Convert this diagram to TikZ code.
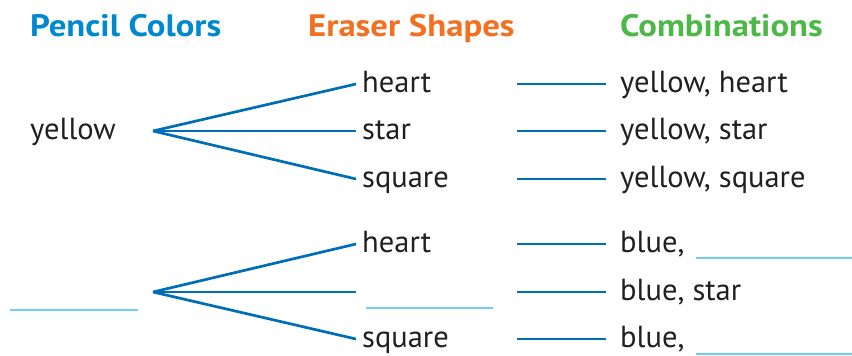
\documentclass[tikz,border=0pt]{standalone}
\usepackage{fontspec}
\setmainfont{PT Sans}
\newfontfamily\headfont[FakeStretch=1.12]{PT Sans}
\usetikzlibrary{positioning}
\definecolor{pencilblue}{RGB}{0,137,207}
\definecolor{eraserorange}{RGB}{243,112,33}
\definecolor{combogreen}{RGB}{77,184,72}
\definecolor{branchblue}{RGB}{0,110,183}
\definecolor{blankblue}{RGB}{109,207,246}
\definecolor{ink}{RGB}{35,31,32}
\tikzset{head/.style = {font=\headfont\bfseries\fontsize{31}{36}\selectfont,
                        anchor=base west, inner sep=0}}
\tikzset{word/.style = {font=\fontsize{30.5}{36}\selectfont, text=ink,
                        text height=20pt, text depth=4pt,
                        inner sep=0, anchor=west}}
\tikzset{branch/.style = {draw=branchblue, line width=2.7pt}}
\tikzset{tie/.style = {draw=branchblue, line width=2.7pt}}
\tikzset{blank/.style = {draw=blankblue, line width=2.8pt}}

\begin{document}
\begin{tikzpicture}[x=1pt,y=-1pt]
      \useasboundingbox (0,0) rectangle (852,356);
      \node[head, text=pencilblue] (colors) at (30,36) {Pencil Colors};
      \node[head, text=eraserorange] (shapes) at (308,36) {Eraser Shapes};
      \node[head, text=combogreen] (combos) at (620,36) {Combinations};
      \node[word] (yellow) at (30,131) {yellow};
      \coordinate (r1) at (153,131);
      \coordinate (r2) at (153,292);
      \node[word] (s1) at (362,84) {heart};
      \node[word] (s2) at (362,131) {star};
      \node[word] (s3) at (362,179) {square};
      \node[word] (s4) at (362,244) {heart};
      \coordinate (s5) at (362,292);
      \node[word] (s6) at (362,339) {square};
      \draw[branch] (r1) -- ([xshift=-6pt]s1.west);
      \draw[branch] (r1) -- ([xshift=-6pt]s2.west);
      \draw[branch] (r1) -- ([xshift=-6pt]s3.west);
      \draw[branch] (r2) -- ([xshift=-6pt]s4.west);
      \draw[branch] (r2) -- ([xshift=-6pt]s5);
      \draw[branch] (r2) -- ([xshift=-6pt]s6.west);
      \draw[blank] (10,310) -- (138,310);
      \draw[blank] (366,308) -- (493,308);
      \node[word] (c1) at (620,84) {yellow, heart};
      \node[word] (c2) at (620,131) {yellow, star};
      \node[word] (c3) at (620,179) {yellow, square};
      \node[word] (c4) at (620,244) {blue,};
      \node[word] (c5) at (620,292) {blue, star};
      \node[word] (c6) at (620,339) {blue,};
      \coordinate (d1) at (517,84);
      \coordinate (d2) at (517,131);
      \coordinate (d3) at (517,179);
      \coordinate (d4) at (517,244);
      \coordinate (d5) at (517,292);
      \coordinate (d6) at (517,339);
      \draw[tie] (d1) -- ([xshift=-14pt]c1.west);
      \draw[tie] (d2) -- ([xshift=-14pt]c2.west);
      \draw[tie] (d3) -- ([xshift=-14pt]c3.west);
      \draw[tie] (d4) -- ([xshift=-14pt]c4.west);
      \draw[tie] (d5) -- ([xshift=-14pt]c5.west);
      \draw[tie] (d6) -- ([xshift=-14pt]c6.west);
      \draw[blank] (696,258) -- (852,258);
      \draw[blank] (696,354) -- (852,354);
    \end{tikzpicture}
\end{document}
